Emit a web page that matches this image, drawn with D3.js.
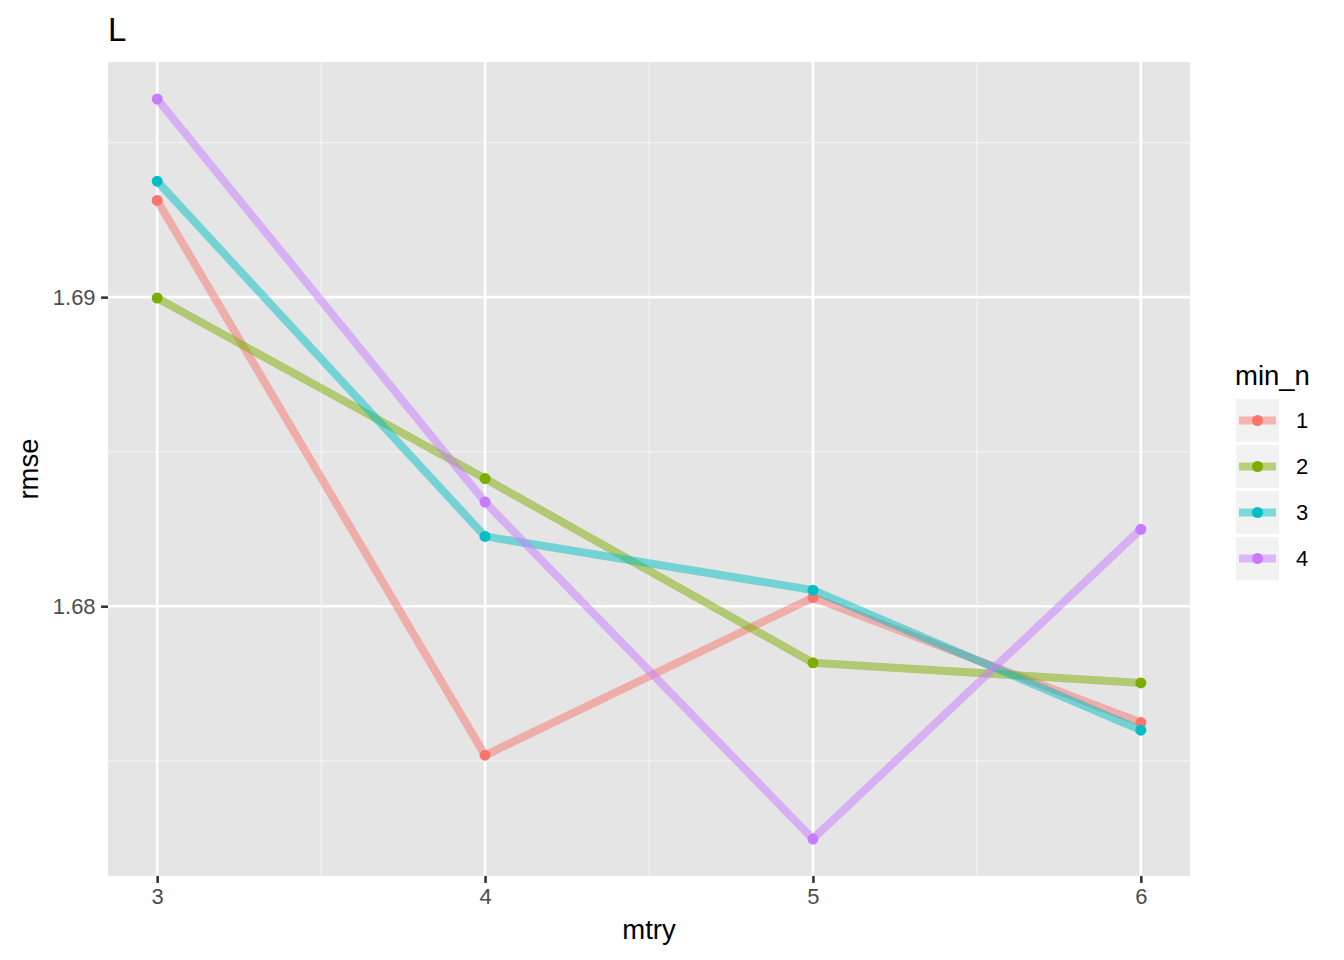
<!DOCTYPE html>
<html>
<head>
<meta charset="utf-8">
<script src="https://cdn.jsdelivr.net/npm/d3@7"></script>
<style>
body{margin:0;background:#fff;}
text{font-family:"Liberation Sans",Arial,Helvetica,sans-serif;}
</style>
</head>
<body>
<svg id="chart" width="1344" height="960"></svg>
<script>
const mtry = [3, 4, 5, 6];
const groups = ["1", "2", "3", "4"];
const rmse1 = [1.69313, 1.67518, 1.68028, 1.67624];
const rmse2 = [1.68997, 1.68413, 1.67817, 1.67752];
const rmse3 = [1.69375, 1.68226, 1.68052, 1.67599];
const rmse4 = [1.69641, 1.68337, 1.67247, 1.68249];
const colors = ["#F8766D", "#7CAE00", "#00BFC4", "#C77CFF"];
const yTicks = [1.68, 1.69];
const series = [rmse1, rmse2, rmse3, rmse4];

const svg = d3.select("#chart");
const W = 1344, H = 960;
const pl = 108, pr = 1190, pt = 62, pb = 876;

const xs = d3.scaleLinear().domain([2.85, 6.15]).range([pl, pr]);
const all = series.flat();
const ymin = d3.min(all), ymax = d3.max(all), ex = (ymax - ymin) * 0.05;
const ys = d3.scaleLinear().domain([ymin - ex, ymax + ex]).range([pb, pt]);

svg.append("rect").attr("x", 0).attr("y", 0).attr("width", W).attr("height", H).attr("fill", "#fff");
svg.append("rect").attr("x", pl).attr("y", pt).attr("width", pr - pl).attr("height", pb - pt).attr("fill", "#E5E5E5");

// minor grid
const xMinor = [3.5, 4.5, 5.5];
const yMinor = [1.675, 1.685, 1.695];
svg.append("g").selectAll("line").data(xMinor).join("line")
  .attr("x1", d => xs(d)).attr("x2", d => xs(d)).attr("y1", pt).attr("y2", pb)
  .attr("stroke", "#F2F2F2").attr("stroke-width", 1.3);
svg.append("g").selectAll("line").data(yMinor).join("line")
  .attr("y1", d => ys(d)).attr("y2", d => ys(d)).attr("x1", pl).attr("x2", pr)
  .attr("stroke", "#F2F2F2").attr("stroke-width", 1.3);
// major grid
svg.append("g").selectAll("line").data(mtry).join("line")
  .attr("x1", d => xs(d)).attr("x2", d => xs(d)).attr("y1", pt).attr("y2", pb)
  .attr("stroke", "#fff").attr("stroke-width", 2.6);
svg.append("g").selectAll("line").data(yTicks).join("line")
  .attr("y1", d => ys(d)).attr("y2", d => ys(d)).attr("x1", pl).attr("x2", pr)
  .attr("stroke", "#fff").attr("stroke-width", 2.6);

// axes
const xAxis = d3.axisBottom(xs).tickValues(mtry).tickFormat(d3.format("d")).tickSize(6.9).tickPadding(5.5);
const gx = svg.append("g").attr("transform", `translate(0,${pb})`).call(xAxis);
gx.select(".domain").remove();
gx.selectAll(".tick line").attr("stroke", "#333").attr("stroke-width", 2.6);
gx.selectAll(".tick text").attr("fill", "#4D4D4D").attr("font-size", 22);

const yAxis = d3.axisLeft(ys).tickValues(yTicks).tickFormat(d3.format(".2f")).tickSize(6.9).tickPadding(5.5);
const gy = svg.append("g").attr("transform", `translate(${pl},0)`).call(yAxis);
gy.select(".domain").remove();
gy.selectAll(".tick line").attr("stroke", "#333").attr("stroke-width", 2.6);
gy.selectAll(".tick text").attr("fill", "#4D4D4D").attr("font-size", 22);

// lines
const line = d3.line().x((d, i) => xs(mtry[i])).y(d => ys(d));
const plot = svg.append("g");
series.forEach((s, k) => {
  plot.append("path").datum(s).attr("d", line).attr("fill", "none")
    .attr("stroke", colors[k]).attr("stroke-opacity", 0.5).attr("stroke-width", 8);
});
series.forEach((s, k) => {
  plot.append("g").selectAll("circle").data(s).join("circle")
    .attr("cx", (d, i) => xs(mtry[i])).attr("cy", d => ys(d)).attr("r", 5.5)
    .attr("fill", colors[k]);
});

// titles
svg.append("text").attr("x", pl).attr("y", 41).attr("font-size", 33).attr("fill", "#000").text("L");
svg.append("text").attr("x", (pl + pr) / 2).attr("y", 939).attr("text-anchor", "middle")
  .attr("font-size", 27.5).attr("fill", "#000").text("mtry");
svg.append("text").attr("transform", `translate(38,${(pt + pb) / 2}) rotate(-90)`).attr("text-anchor", "middle")
  .attr("font-size", 27.5).attr("fill", "#000").text("rmse");

// legend
const lg = svg.append("g").attr("transform", "translate(1236,0)");
lg.append("text").attr("x", -1).attr("y", 385).attr("font-size", 27.5).attr("fill", "#000").text("min_n");
groups.forEach((g, k) => {
  const y0 = 399 + k * 46;
  lg.append("rect").attr("x", 0).attr("y", y0).attr("width", 43).attr("height", 43).attr("fill", "#F2F2F2");
  lg.append("line").attr("x1", 3).attr("x2", 40).attr("y1", y0 + 21.5).attr("y2", y0 + 21.5)
    .attr("stroke", colors[k]).attr("stroke-opacity", 0.5).attr("stroke-width", 8);
  lg.append("circle").attr("cx", 21.5).attr("cy", y0 + 21.5).attr("r", 5.5).attr("fill", colors[k]);
  lg.append("text").attr("x", 60).attr("y", y0 + 21.5).attr("dy", "0.36em").attr("font-size", 22).attr("fill", "#000").text(g);
});
</script>
</body>
</html>
